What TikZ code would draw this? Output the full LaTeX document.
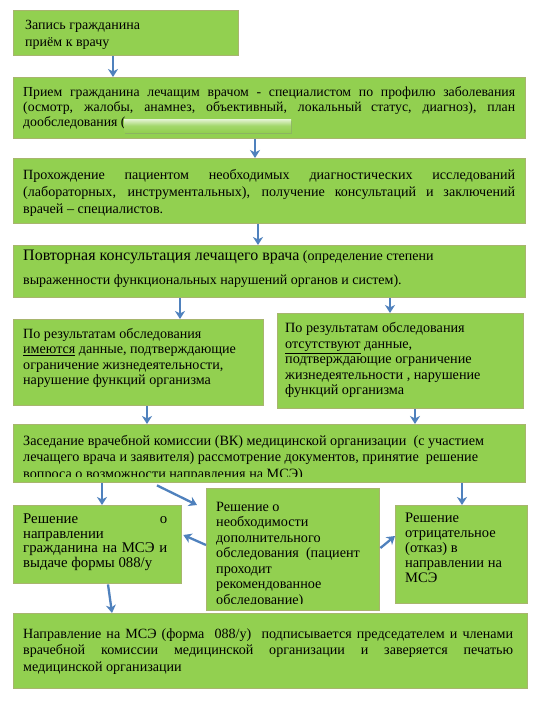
\documentclass[tikz,border=0pt]{standalone}
\usepackage{fontspec}
\setmainfont{Liberation Serif}
\usetikzlibrary{arrows.meta,calc,shadows}
\definecolor{gfill}{HTML}{92D050}
\definecolor{gborder}{HTML}{A8B56E}
\definecolor{arrblue}{HTML}{4F81BD}
\newcommand{\jl}[2]{\makebox[#1][s]{#2}}
\tikzset{
  gbox/.style={draw=gborder, line width=1.4pt, fill=gfill, rectangle, inner sep=0pt, anchor=north west},
  txt/.style={inner sep=0pt, anchor=north west, align=left, text=black},
  arr/.style={draw=arrblue, line width=2.3pt, -{Stealth[length=8pt,width=10pt,inset=2.5pt]}},
  cover/.style={rectangle, inner sep=0pt, anchor=north west, top color=white!75!gfill, bottom color=gfill, middle color=gfill!85!white, drop shadow={shadow xshift=1pt, shadow yshift=-1.5pt, opacity=0.35}}
}
\begin{document}
\begin{tikzpicture}[x=1pt,y=-1pt]
\useasboundingbox (0,0) rectangle (534,702);
\fill[white] (0,0) rectangle (534,702);

% boxes
\node[gbox, minimum width=225pt, minimum height=45pt] (b1) at (13,10) {};
\node[gbox, minimum width=512pt, minimum height=61pt] (b2) at (13,77) {};
\node[gbox, minimum width=512pt, minimum height=65pt] (b3) at (13,158) {};
\node[gbox, minimum width=512pt, minimum height=52pt] (b4) at (13,245) {};
\node[gbox, minimum width=250pt, minimum height=86pt] (b5l) at (13,319) {};
\node[gbox, minimum width=246pt, minimum height=95pt] (b5r) at (277,313) {};
\node[gbox, minimum width=512pt, minimum height=58pt] (b6) at (13,424) {};
\node[gbox, minimum width=168pt, minimum height=78pt] (b7l) at (13,505) {};
\node[gbox, minimum width=173pt, minimum height=122pt] (b7m) at (206,488) {};
\node[gbox, minimum width=132pt, minimum height=98pt] (b7r) at (395,505) {};
\node[gbox, minimum width=514pt, minimum height=75pt] (b8) at (13,613) {};

% texts
\node[txt, font=\fontsize{14}{17}\selectfont] (t1) at (25,20) {Запись гражданина\\приём к врачу};

\node[txt, font=\fontsize{13.8}{15}\selectfont] (t2) at (23,86.5)
{\jl{492pt}{Прием гражданина лечащим врачом - специалистом по профилю заболевания}\\
\jl{492pt}{(осмотр, жалобы, анамнез, объективный, локальный статус, диагноз), план}\\
дообследования (};
\node[cover, minimum width=167pt, minimum height=13pt] (cov) at (124,119) {};

\node[txt, font=\fontsize{14.1}{17}\selectfont] (t3) at (23,169)
{\jl{492pt}{Прохождение пациентом необходимых диагностических исследований}\\
\jl{492pt}{(лабораторных, инструментальных), получение консультаций и заключений}\\
врачей – специалистов.};

\node[txt, font=\fontsize{14}{23.5}\selectfont] (t4) at (23,250)
{{\fontsize{16}{23.5}\selectfont Повторная консультация лечащего врача} (определение степени\\
выраженности функциональных нарушений органов и систем).};

\node[txt, font=\fontsize{14.1}{15.5}\selectfont] (t5l) at (23,328)
{По результатам обследования\\
\underline{имеются} данные, подтверждающие\\
ограничение жизнедеятельности,\\
нарушение функций организма};

\node[txt, font=\fontsize{14.2}{15.5}\selectfont] (t5r) at (285,322.5)
{По результатам обследования\\
\underline{отсутствуют} данные,\\
подтверждающие ограничение\\
жизнедеятельности , нарушение\\
функций организма};

\begin{scope}
\clip (b6.north west) rectangle ($(b6.south east)+(0,-7)$);
\node[txt, font=\fontsize{14.2}{16.5}\selectfont] (t6) at (23,435)
{Заседание врачебной комиссии (ВК) медицинской организации\ \ (с участием\\
лечащего врача и заявителя) рассмотрение документов, принятие\ \ решение\\
вопроса о возможности направления на МСЭ)};
\end{scope}

\node[txt, font=\fontsize{14.8}{14.8}\selectfont] (t7l) at (23,513.5)
{\jl{144pt}{Решение о}\\
направлении\\
\jl{144pt}{гражданина на МСЭ и}\\
выдаче формы 088/у};

\begin{scope}
\clip (b7m.north west) rectangle ($(b7m.south east)+(0,-8)$);
\node[txt, font=\fontsize{14.2}{15.5}\selectfont] (t7m) at (216,501.5)
{Решение о\\
необходимости\\
дополнительного\\
обследования\ \ (пациент\\
проходит\\
рекомендованное\\
обследование)};
\end{scope}

\node[txt, font=\fontsize{14.5}{15}\selectfont] (t7r) at (405,512.5)
{Решение\\
отрицательное\\
(отказ) в\\
направлении на\\
МСЭ};

\node[txt, font=\fontsize{14.1}{16.5}\selectfont] (t8) at (23,628.5)
{\jl{490pt}{Направление на МСЭ (форма\ \ 088/у)\ \ подписывается председателем и членами}\\
\jl{490pt}{врачебной комиссии медицинской организации и заверяется печатью}\\
медицинской организации};

% arrows
\draw[arr] ($(b1.south west)+(100,0)$) -- ($(b2.north west)+(100,0)$);
\draw[arr] ($(b2.south west)+(242,0)$) -- ($(b3.north west)+(242,0)$);
\draw[arr] ($(b3.south west)+(245,0)$) -- ($(b4.north west)+(245,0)$);
\draw[arr] ($(b4.south west)+(167,0)$) -- ($(b5l.north west)+(167,0)$);
\draw[arr] ($(b4.south west)+(377,0)$) -- ($(b5r.north west)+(113,0)$);
\draw[arr] ($(b5l.south west)+(134,0)$) -- ($(b6.north west)+(134,0)$);
\draw[arr] ($(b5r.south west)+(138,0)$) -- ($(b6.north west)+(402,0)$);
\draw[arr] ($(b6.south west)+(89,0)$) -- ($(b7l.north west)+(89,0)$);
\draw[arr] ($(b6.south west)+(144,2)$) -- ($(b7m.north west)+(-9,17)$);
\draw[arr] ($(b6.south west)+(449,0)$) -- ($(b7r.north west)+(67,0)$);
\draw[arr] ($(b7m.north west)+(0,57)$) -- ($(b7l.north east)+(1,30)$);
\draw[arr] ($(b7m.north east)+(0,60)$) -- ($(b7r.north west)+(0,31)$);
\draw[arr] ($(b7l.south west)+(95,0)$) -- ($(b8.north west)+(99,0)$);
\end{tikzpicture}
\end{document}
